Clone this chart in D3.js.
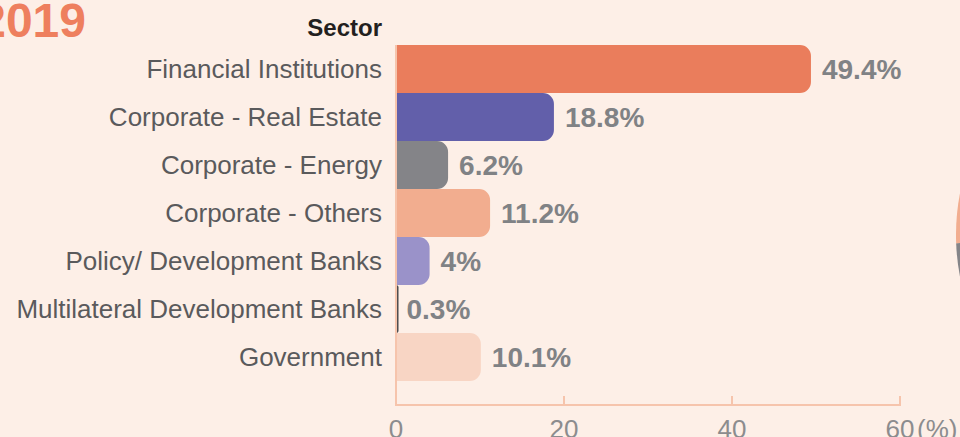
<!DOCTYPE html>
<meta charset="utf-8">
<style>
body { margin: 0; background: #fdefe7; overflow: hidden; }
svg { display: block; font-family: "Liberation Sans", Arial, sans-serif; }
.cat { fill: #5a5a5c; font-size: 26px; }
.val { fill: #808285; font-size: 28px; font-weight: bold; }
.tick-label { fill: #8c8c8e; font-size: 26px; }
</style>
<body>
<script src="https://cdn.jsdelivr.net/npm/d3@7"></script>
<script>

var sectors = ["Financial Institutions", "Corporate - Real Estate", "Corporate - Energy",
               "Corporate - Others", "Policy/ Development Banks",
               "Multilateral Development Banks", "Government"];
var shares = [49.4, 18.8, 6.2, 11.2, 4, 0.3, 10.1];
var colors = ["#ea7d5c", "#625faa", "#848488", "#f2ad8f", "#9a92c9", "#4d4d4f", "#f8d5c4"];
var xTicks = [0, 20, 40, 60];

var width = 960, height = 437;

var svg = d3.select("body").append("svg")
    .attr("width", width)
    .attr("height", height);

svg.append("rect")
    .attr("width", width)
    .attr("height", height)
    .attr("fill", "#fdefe7");

var x = d3.scaleLinear().domain([0, 60]).range([396, 900]);
var y = d3.scaleBand().domain(sectors).range([45, 381]).padding(0);

// bar with square left side and rounded right side
function barPath(x0, y0, w, h, r) {
  r = Math.min(r, w, h / 2);
  return "M" + x0 + "," + y0 +
         "H" + (x0 + w - r) +
         "A" + r + "," + r + " 0 0 1 " + (x0 + w) + "," + (y0 + r) +
         "V" + (y0 + h - r) +
         "A" + r + "," + r + " 0 0 1 " + (x0 + w - r) + "," + (y0 + h) +
         "H" + x0 + "Z";
}

// pie of the same shares, mostly off to the right
var pie = d3.pie().sort(null)(shares);
var arc = d3.arc().innerRadius(0).outerRadius(218);
svg.append("g")
    .attr("transform", "translate(1174,235)")
  .selectAll("path")
  .data(pie)
  .enter().append("path")
    .attr("d", arc)
    .attr("fill", function(d, i) { return colors[i]; });

// title
svg.append("text")
    .attr("x", 86)
    .attr("y", 37)
    .attr("text-anchor", "end")
    .attr("fill", "#ee7f5e")
    .style("font-size", "48px")
    .style("font-weight", "bold")
    .text("2019");

svg.append("text")
    .attr("x", 382)
    .attr("y", 36)
    .attr("text-anchor", "end")
    .attr("fill", "#231f20")
    .style("font-size", "24px")
    .style("font-weight", "bold")
    .text("Sector");

var rows = sectors.map(function(s, i) { return { name: s, value: shares[i], color: colors[i] }; });

svg.selectAll(".bar")
  .data(rows)
  .enter().append("path")
    .attr("class", "bar")
    .attr("fill", function(d) { return d.color; })
    .attr("d", function(d) {
      return barPath(x(0), y(d.name), x(d.value) - x(0), y.bandwidth(), 11);
    });

svg.selectAll(".cat")
  .data(rows)
  .enter().append("text")
    .attr("class", "cat")
    .attr("x", 382)
    .attr("y", function(d) { return y(d.name) + y.bandwidth() / 2; })
    .attr("dy", "0.35em")
    .attr("text-anchor", "end")
    .text(function(d) { return d.name; });

svg.selectAll(".val")
  .data(rows)
  .enter().append("text")
    .attr("class", "val")
    .attr("x", function(d) { return x(d.value) + (d.value < 1 ? 8 : 11); })
    .attr("y", function(d) { return y(d.name) + y.bandwidth() / 2; })
    .attr("dy", "0.36em")
    .text(function(d) { return d.value + "%"; });

// axes
var axisColor = "#f6c4ac";
svg.append("line")
    .attr("x1", x(0)).attr("x2", x(0))
    .attr("y1", 45).attr("y2", 405)
    .attr("stroke", axisColor)
    .attr("stroke-width", 2);

svg.append("line")
    .attr("x1", x(0) - 1).attr("x2", x(60) + 1)
    .attr("y1", 405).attr("y2", 405)
    .attr("stroke", axisColor)
    .attr("stroke-width", 2);

svg.selectAll(".tick")
  .data(xTicks)
  .enter().append("line")
    .attr("class", "tick")
    .attr("x1", function(d) { return x(d); })
    .attr("x2", function(d) { return x(d); })
    .attr("y1", 396).attr("y2", 405)
    .attr("stroke", axisColor)
    .attr("stroke-width", 2);

svg.selectAll(".tick-label")
  .data(xTicks)
  .enter().append("text")
    .attr("class", "tick-label")
    .attr("x", function(d) { return x(d); })
    .attr("y", 438)
    .attr("text-anchor", "middle")
    .text(function(d) { return d; });

svg.append("text")
    .attr("class", "tick-label")
    .attr("x", 917)
    .attr("y", 438)
    .text("(%)");

</script>
